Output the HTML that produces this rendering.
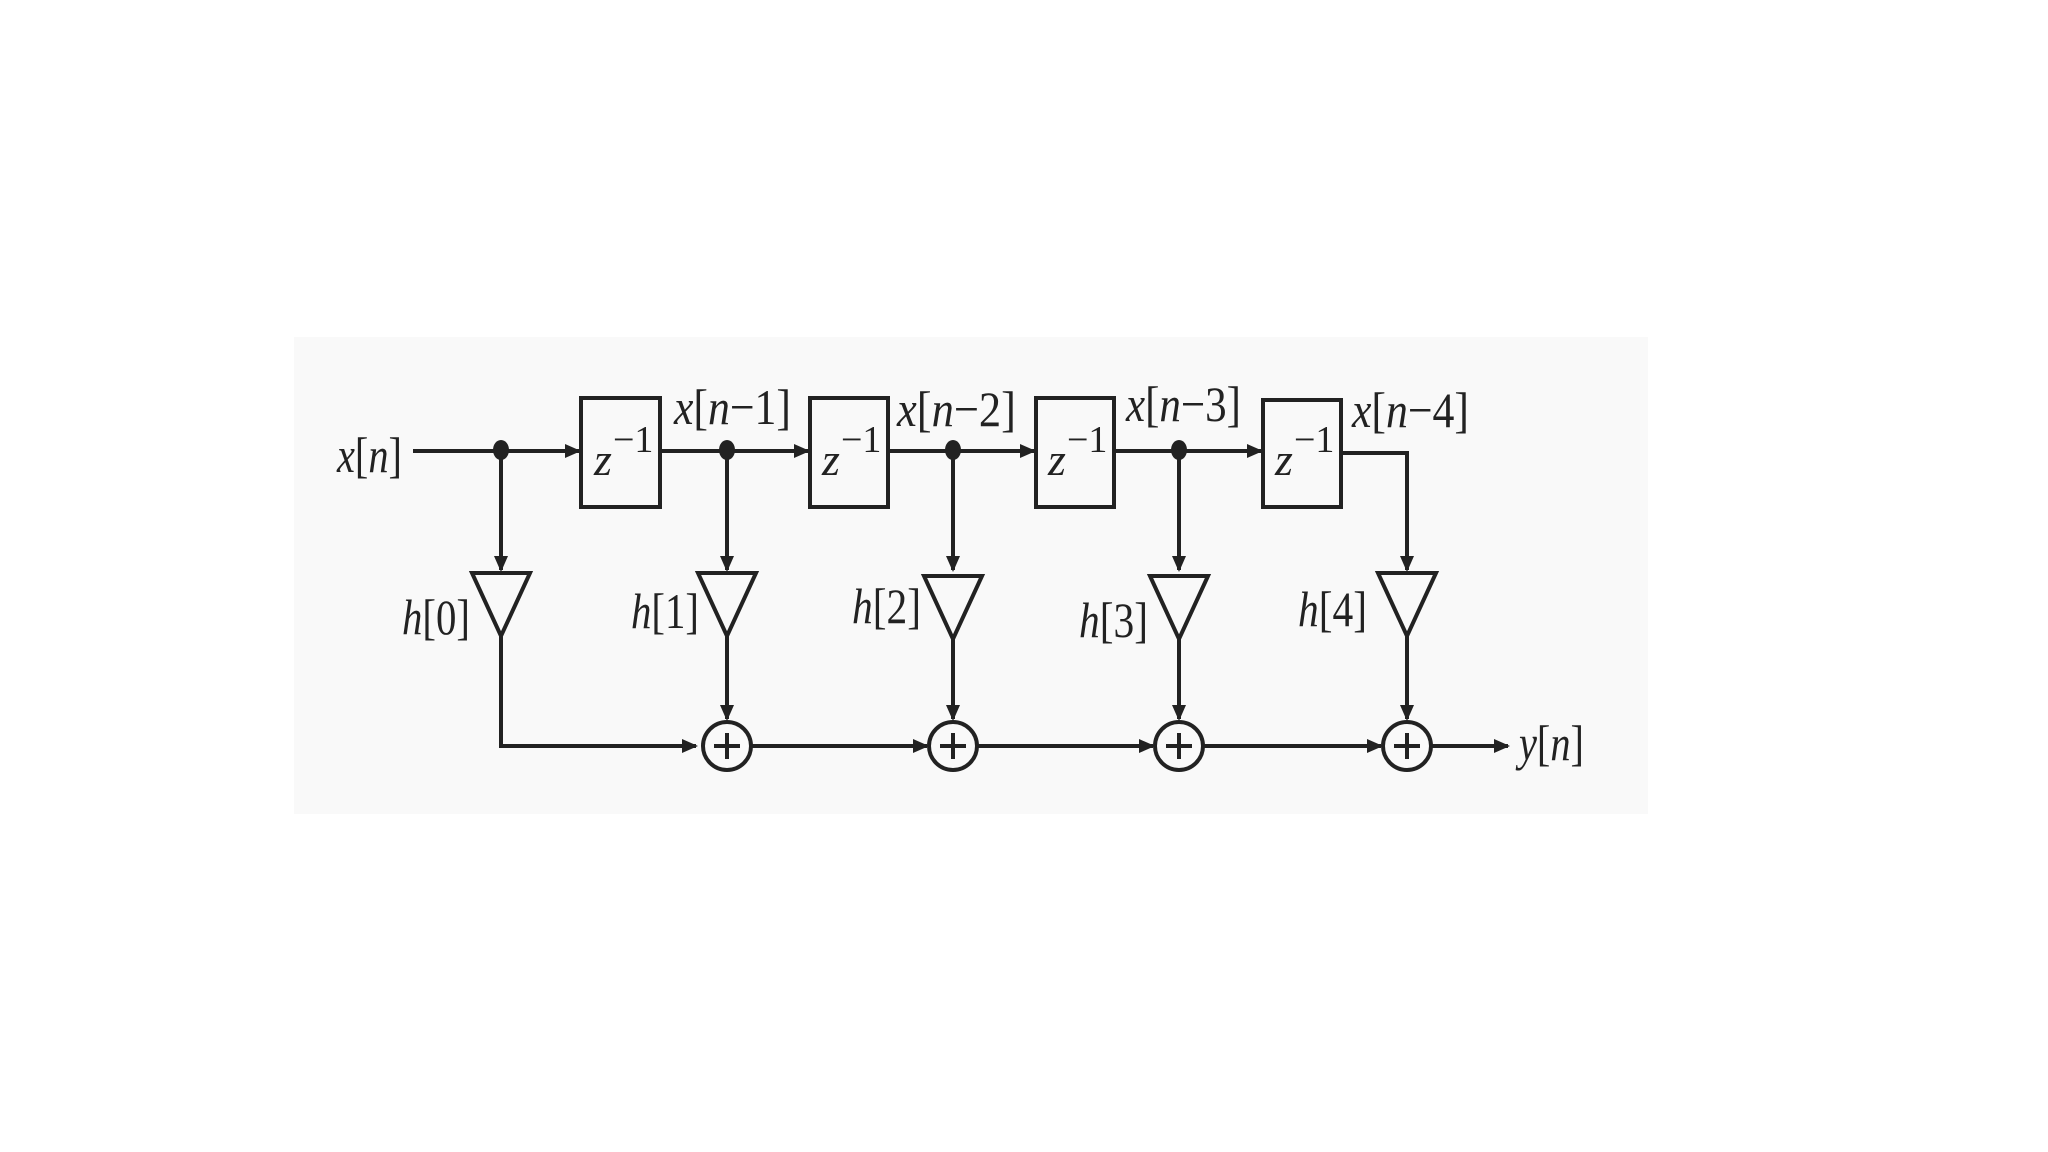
<!DOCTYPE html>
<html><head><meta charset="utf-8"><style>
html,body{margin:0;padding:0;background:#fff;}
svg{display:block;}
text{font-family:"Liberation Serif","Times New Roman",serif;fill:#222;}
</style></head><body>
<svg width="2048" height="1152" viewBox="0 0 2048 1152" xmlns="http://www.w3.org/2000/svg">
<defs>
<marker id="a" markerWidth="16" markerHeight="14" refX="14" refY="7" orient="auto" markerUnits="userSpaceOnUse">
<path d="M0,0 L16,7 L0,14 Z" fill="#222"/>
</marker>
</defs>
<rect x="294" y="337" width="1354" height="477" fill="#f9f9f9"/>
<g stroke="#222" stroke-width="4" fill="none">
<line x1="413" y1="451" x2="579" y2="451" marker-end="url(#a)"/>
<line x1="660" y1="451" x2="808" y2="451" marker-end="url(#a)"/>
<line x1="888" y1="451" x2="1034" y2="451" marker-end="url(#a)"/>
<line x1="1114" y1="451" x2="1261" y2="451" marker-end="url(#a)"/>
<polyline points="1341,453 1407,453 1407,570" marker-end="url(#a)"/>
<rect x="581" y="398" width="79" height="109"/>
<rect x="810" y="398" width="78" height="109"/>
<rect x="1036" y="398" width="78" height="109"/>
<rect x="1263" y="400" width="78" height="107"/>
<line x1="501" y1="451" x2="501" y2="570" marker-end="url(#a)"/>
<line x1="727" y1="451" x2="727" y2="570" marker-end="url(#a)"/>
<line x1="953" y1="451" x2="953" y2="570" marker-end="url(#a)"/>
<line x1="1179" y1="451" x2="1179" y2="570" marker-end="url(#a)"/>
<polygon points="472,573 530,573 501,636"/>
<polygon points="698,573 756,573 727,636"/>
<polygon points="924,576 982,576 953,639"/>
<polygon points="1150,576 1208,576 1179,639"/>
<polygon points="1378,573 1436,573 1407,636"/>
<polyline points="501,636 501,746 696,746" marker-end="url(#a)"/>
<line x1="727" y1="636" x2="727" y2="719" marker-end="url(#a)"/>
<line x1="953" y1="639" x2="953" y2="719" marker-end="url(#a)"/>
<line x1="1179" y1="639" x2="1179" y2="719" marker-end="url(#a)"/>
<line x1="1407" y1="636" x2="1407" y2="719" marker-end="url(#a)"/>
<circle cx="727" cy="746" r="24"/>
<circle cx="953" cy="746" r="24"/>
<circle cx="1179" cy="746" r="24"/>
<circle cx="1407" cy="746" r="24"/>
<path d="M727,733 V759 M714,746 H740 M953,733 V759 M940,746 H966 M1179,733 V759 M1166,746 H1192 M1407,733 V759 M1394,746 H1420"/>
<line x1="751" y1="746" x2="927" y2="746" marker-end="url(#a)"/>
<line x1="977" y1="746" x2="1153" y2="746" marker-end="url(#a)"/>
<line x1="1203" y1="746" x2="1381" y2="746" marker-end="url(#a)"/>
<line x1="1431" y1="746" x2="1508" y2="746" marker-end="url(#a)"/>
</g>
<g fill="#222">
<ellipse cx="501" cy="450" rx="8" ry="10"/>
<ellipse cx="727" cy="450" rx="8" ry="10"/>
<ellipse cx="953" cy="450" rx="8" ry="10"/>
<ellipse cx="1179" cy="450" rx="8" ry="10"/>
</g>
<g font-size="50">
<text x="337" y="472" textLength="65" lengthAdjust="spacingAndGlyphs"><tspan font-style="italic">x</tspan>[<tspan font-style="italic">n</tspan>]</text>
<text x="674" y="424" textLength="117" lengthAdjust="spacingAndGlyphs"><tspan font-style="italic">x</tspan>[<tspan font-style="italic">n</tspan>−1]</text>
<text x="897" y="426" textLength="119" lengthAdjust="spacingAndGlyphs"><tspan font-style="italic">x</tspan>[<tspan font-style="italic">n</tspan>−2]</text>
<text x="1126" y="421" textLength="115" lengthAdjust="spacingAndGlyphs"><tspan font-style="italic">x</tspan>[<tspan font-style="italic">n</tspan>−3]</text>
<text x="1352" y="427" textLength="117" lengthAdjust="spacingAndGlyphs"><tspan font-style="italic">x</tspan>[<tspan font-style="italic">n</tspan>−4]</text>
<text x="402" y="634" textLength="68" lengthAdjust="spacingAndGlyphs"><tspan font-style="italic">h</tspan>[0]</text>
<text x="631" y="628" textLength="68" lengthAdjust="spacingAndGlyphs"><tspan font-style="italic">h</tspan>[1]</text>
<text x="852" y="623" textLength="69" lengthAdjust="spacingAndGlyphs"><tspan font-style="italic">h</tspan>[2]</text>
<text x="1079" y="637" textLength="69" lengthAdjust="spacingAndGlyphs"><tspan font-style="italic">h</tspan>[3]</text>
<text x="1298" y="626" textLength="69" lengthAdjust="spacingAndGlyphs"><tspan font-style="italic">h</tspan>[4]</text>
<text x="1519" y="760" textLength="65" lengthAdjust="spacingAndGlyphs"><tspan font-style="italic">y</tspan>[<tspan font-style="italic">n</tspan>]</text>
</g>
<g font-size="46">
<text x="594" y="475" font-style="italic">z</text><text x="613" y="452" font-size="38">−1</text>
<text x="822" y="475" font-style="italic">z</text><text x="841" y="452" font-size="38">−1</text>
<text x="1048" y="475" font-style="italic">z</text><text x="1067" y="452" font-size="38">−1</text>
<text x="1275" y="475" font-style="italic">z</text><text x="1294" y="452" font-size="38">−1</text>
</g>
</svg>
</body></html>
